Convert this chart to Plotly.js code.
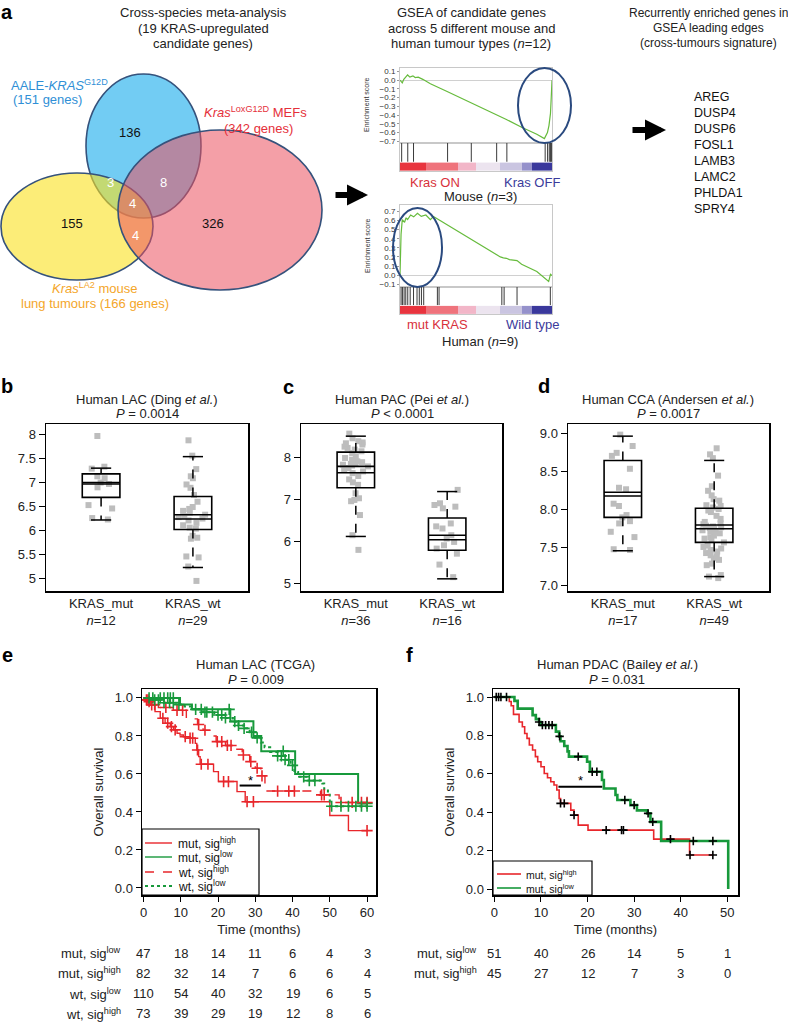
<!DOCTYPE html>
<html>
<head>
<meta charset="utf-8">
<script src="https://cdn.plot.ly/plotly-3.0.1.min.js"></script>
<style>
  html, body { margin: 0; padding: 0; background: #fff; }
  #fig { width: 788px; height: 1022px; }
</style>
</head>
<body>
<div id="fig"></div>
<script>
// ---- panel a : Venn counts and GSEA ----
const vennCounts = [136, 3, 8, 4, 155, 326, 4];
const leadingEdgeGenes = ['AREG', 'DUSP4', 'DUSP6', 'FOSL1', 'LAMB3', 'LAMC2', 'PHLDA1', 'SPRY4'];

const mouseRank = [0, 1.5, 2.5, 5, 6.5, 8.5, 10, 12, 15, 20, 31, 47, 64, 70, 80, 90, 95, 96, 97, 98, 99, 99.5, 100];
const mouseES = [0, -0.03, 0.01, 0.06, 0.035, 0.05, 0.03, 0.035, 0.01, -0.04, -0.13, -0.26, -0.4, -0.45, -0.54, -0.62, -0.67, -0.63, -0.6, -0.52, -0.38, -0.2, 0.0];
const mouseHits = [1.1, 5.1, 8.9, 31.3, 46.9, 63.6, 70.3, 95.5, 97.1, 98.2, 98.9, 99.3, 99.6];

const humanRank = [0, 0.7, 1.5, 3, 4, 5, 7, 9, 11.5, 14, 17, 20, 22, 25, 35, 45, 55, 66, 68, 70, 72, 77, 80, 90, 97.8, 99, 100];
const humanES = [0, 0.45, 0.61, 0.58, 0.63, 0.61, 0.66, 0.64, 0.68, 0.645, 0.66, 0.61, 0.645, 0.615, 0.51, 0.41, 0.31, 0.2, 0.19, 0.185, 0.17, 0.16, 0.12, 0.04, -0.07, 0.01, -0.005];
const humanHits = [0.7, 1.6, 2.7, 3.8, 5.1, 6.7, 8.9, 11.2, 12.7, 14.1, 15.6, 24.6, 25.7, 67, 68.5, 77, 98.9];

const rankBins = [0, 17, 38, 50, 66, 80, 87, 100];
const rankLevels = [0, 1, 2, 3, 4, 5, 6];

// ---- panels b-d : expression by KRAS status ----
const boxGroups = ['KRAS_mut', 'KRAS_wt'];
const boxN = [[12, 29], [36, 16], [17, 49]];
const boxLow = [[6.21, 5.22], [6.11, 5.10], [7.46, 7.12]];
const boxQ1 = [[6.68, 6.01], [7.27, 5.78], [7.90, 7.57]];
const boxMedian = [[6.99, 6.32], [7.78, 6.14], [8.23, 7.80]];
const boxMean = [[6.96, 6.23], [7.63, 6.03], [8.18, 7.75]];
const boxQ3 = [[7.17, 6.70], [8.12, 6.55], [8.65, 8.02]];
const boxHigh = [[7.29, 7.53], [8.50, 7.18], [8.97, 8.65]];

const lacMut = [7.96, 7.32, 7.28, 7.12, 7.08, 6.99, 6.96, 6.89, 6.52, 6.45, 6.25, 6.22];
const lacWt = [7.87, 7.55, 7.27, 7.12, 7.08, 6.95, 6.88, 6.73, 6.59, 6.48, 6.44, 6.40, 6.36, 6.32, 6.29, 6.27, 6.24, 6.20, 6.15, 6.10, 6.05, 6.03, 5.88, 5.84, 5.82, 5.45, 5.43, 5.24, 4.94];
const pacMut = [8.56, 8.45, 8.38, 8.35, 8.33, 8.30, 8.25, 8.22, 8.18, 8.14, 8.10, 8.02, 7.98, 7.94, 7.90, 7.88, 7.86, 7.84, 7.82, 7.80, 7.78, 7.74, 7.70, 7.66, 7.62, 7.55, 7.47, 7.40, 7.34, 7.14, 7.02, 6.98, 6.95, 6.62, 6.14, 5.79];
const pacWt = [7.22, 6.90, 6.86, 6.82, 6.78, 6.42, 6.35, 6.30, 6.14, 6.06, 5.98, 5.90, 5.82, 5.70, 5.44, 5.14];
const ccaMut = [8.99, 8.84, 8.75, 8.71, 8.54, 8.29, 8.27, 8.08, 8.05, 7.93, 7.90, 7.85, 7.82, 7.71, 7.64, 7.48, 7.47];
const ccaWt = [8.81, 8.73, 8.68, 8.45, 8.31, 8.25, 8.19, 8.14, 8.12, 8.06, 8.05, 8.03, 8.01, 7.99, 7.97, 7.92, 7.88, 7.84, 7.82, 7.81, 7.79, 7.78, 7.77, 7.76, 7.75, 7.73, 7.72, 7.71, 7.69, 7.66, 7.64, 7.62, 7.60, 7.57, 7.53, 7.51, 7.49, 7.47, 7.45, 7.43, 7.40, 7.38, 7.36, 7.34, 7.29, 7.27, 7.14, 7.12, 7.10];

// ---- panel e : TCGA LAC survival ----
const lacMutHighT = [0, 0.45, 1.8, 3.1, 4.5, 5.8, 7.2, 8.1, 9.0, 9.8, 10.7, 12.5, 13.9, 14.3, 14.8, 15.2, 18.8, 20.1, 25.1, 27.3, 50, 55, 60];
const lacMutHighS = [1.0, 0.99, 0.963, 0.928, 0.893, 0.867, 0.849, 0.832, 0.814, 0.805, 0.796, 0.788, 0.761, 0.726, 0.691, 0.651, 0.612, 0.56, 0.507, 0.454, 0.381, 0.302, 0.302];
const lacMutHighCens = [0.8, 1.2, 2.2, 5.2, 6.5, 7.5, 8.5, 11.2, 12.5, 13.2, 14.5, 15.5, 17.3, 21.5, 22.8, 27.8, 29.5, 60];
const lacMutLowT = [0, 9.8, 13.0, 23.3, 29.5, 31.6, 40.7, 57.6, 60];
const lacMutLowS = [1.0, 0.965, 0.94, 0.877, 0.80, 0.72, 0.60, 0.445, 0.445];
const lacMutLowCens = [2.5, 4.5, 5.5, 6.5, 7.2, 8.0, 23.0, 37.5, 60];
const lacWtHighT = [0, 1, 2.5, 4, 8, 11.5, 14.5, 16, 18, 19.5, 22, 24.5, 26.5, 28.5, 30, 31.5, 32.6, 47.5, 52.5, 60];
const lacWtHighS = [1.0, 0.98, 0.965, 0.95, 0.935, 0.89, 0.86, 0.83, 0.80, 0.77, 0.75, 0.73, 0.70, 0.665, 0.63, 0.59, 0.51, 0.49, 0.45, 0.45];
const lacWtHighCens = [1.5, 3, 6, 9, 10.5, 14.8, 16.5, 19.8, 21, 22.5, 23.5, 26.8, 28.8, 30.5, 31.8, 36, 39, 40.5, 47.8, 48.5, 53, 56, 58.5, 60];
const lacWtLowT = [0, 2, 5, 9, 11, 13, 16, 19, 22, 24, 25.5, 27, 28.5, 30, 31.5, 32.5, 34, 36, 38, 39.5, 40.5, 41.5, 44, 48, 48.5, 49.5, 50, 60];
const lacWtLowS = [1.0, 0.99, 0.975, 0.965, 0.955, 0.94, 0.925, 0.91, 0.895, 0.875, 0.855, 0.84, 0.82, 0.79, 0.765, 0.74, 0.715, 0.695, 0.675, 0.645, 0.61, 0.585, 0.565, 0.55, 0.52, 0.49, 0.43, 0.43];
const lacWtLowCens = [1.5, 3, 4, 5.5, 7, 8, 9.5, 14, 15.5, 16.5, 17, 18.5, 20, 21, 22, 24.5, 25.5, 27, 29, 30.5, 36, 37, 38, 39, 40, 43, 44.5, 46, 50.5, 53, 55, 57, 58.5, 60];

const lacRiskTimes = [0, 10, 20, 30, 40, 50, 60];
const lacRiskRows = ['mut, sig<sup>low</sup>', 'mut, sig<sup>high</sup>', 'wt, sig<sup>low</sup>', 'wt, sig<sup>high</sup>'];
const lacRiskMutLow = [47, 18, 14, 11, 6, 4, 3];
const lacRiskMutHigh = [82, 32, 14, 7, 6, 6, 4];
const lacRiskWtLow = [110, 54, 40, 32, 19, 6, 5];
const lacRiskWtHigh = [73, 39, 29, 19, 12, 8, 6];

// ---- panel f : PDAC survival ----
const pdacHighT = [0, 3.2, 3.6, 4.1, 5.3, 6.0, 6.5, 7.0, 7.5, 8.2, 8.8, 9.3, 10.0, 10.7, 11.4, 12.1, 12.8, 13.4, 13.9, 14.2, 16.4, 17.1, 18.0, 20.1, 34.2, 41.9, 47.0];
const pdacHighS = [1.0, 0.977, 0.955, 0.91, 0.87, 0.845, 0.81, 0.785, 0.75, 0.724, 0.69, 0.663, 0.637, 0.602, 0.58, 0.559, 0.542, 0.516, 0.472, 0.446, 0.411, 0.385, 0.333, 0.307, 0.26, 0.177, 0.177];
const pdacHighCens = [0.4, 0.9, 1.4, 2.6, 14.2, 15.0, 17.1, 24.0, 27.3, 27.7, 37.8, 42.0, 46.9];
const pdacLowT = [0, 4.3, 5.0, 8.2, 8.9, 9.6, 10.0, 13.2, 13.9, 14.2, 15.0, 15.7, 16.0, 19.9, 20.5, 23.1, 23.5, 26.0, 26.4, 29.2, 30.6, 32.8, 33.5, 35.8, 50.2];
const pdacLowS = [1.0, 0.98, 0.94, 0.906, 0.885, 0.87, 0.854, 0.82, 0.795, 0.77, 0.745, 0.717, 0.69, 0.663, 0.611, 0.568, 0.524, 0.49, 0.464, 0.437, 0.41, 0.394, 0.35, 0.25, 0.0];
const pdacLowCens = [9.6, 10.3, 11.0, 11.7, 12.4, 14.0, 18.0, 21.0, 22.0, 28.0, 30.0, 33.0, 34.0, 42.7, 46.9];

const pdacRiskTimes = [0, 10, 20, 30, 40, 50];
const pdacRiskRows = ['mut, sig<sup>low</sup>', 'mut, sig<sup>high</sup>'];
const pdacRiskLow = [51, 40, 26, 14, 5, 1];
const pdacRiskHigh = [45, 27, 12, 7, 3, 0];

// ---------------------------------------------------------------
const W = 788, H = 1022;
const FONT = 'Liberation Sans, Arial, Helvetica, sans-serif';
const px = x => x / W;
const py = y => 1 - y / H;

const RED = '#e8262b';
const GREEN = '#17993b';
const GREY_PT = '#bdbdbd';

// survival value at time t for a step curve
function survAt(T, S, t) {
  let s = S[0];
  for (let i = 0; i < T.length; i++) { if (T[i] <= t) s = S[i]; }
  return s;
}

const traces = [];
const annotations = [];
const shapes = [];

// GSEA strips + hits + running score
const stripColors = [[0, '#e8343e'], [0.1667, '#ef737c'], [0.3333, '#f2b6c8'], [0.5, '#ece4ef'], [0.6667, '#cac5e1'], [0.8333, '#9591cb'], [1, '#3a389c']];
function gsea(rank, es, hits, xa, ya, xs, ys) {
  traces.push({
    type: 'heatmap', x: rankBins, y: [0, 0.3], z: [rankLevels], xaxis: xs, yaxis: ys,
    colorscale: stripColors, zmin: 0, zmax: 6, showscale: false, hoverinfo: 'skip'
  });
  traces.push({
    type: 'scatter', mode: 'lines', xaxis: xs, yaxis: ys, showlegend: false,
    x: hits.flatMap(h => [h, h, null]), y: hits.flatMap(() => [0.33, 1, null]),
    line: { color: '#3a3a3a', width: 1 }, hoverinfo: 'skip'
  });
  traces.push({
    type: 'scatter', mode: 'lines', x: rank, y: es, xaxis: xa, yaxis: ya, showlegend: false,
    line: { color: '#66bb3c', width: 1.2 }
  });
}
gsea(mouseRank, mouseES, mouseHits, 'x', 'y', 'x2', 'y2');
gsea(humanRank, humanES, humanHits, 'x3', 'y3', 'x4', 'y4');

// box panels
const boxW = 0.41, capW = 0.11;
function boxPanel(k, groups, xa, ya) {
  groups.forEach((vals, i) => {
    traces.push({
      type: 'box', x: vals.map(() => i + 1), y: vals, xaxis: xa, yaxis: ya,
      boxpoints: 'all', jitter: 0.8, pointpos: 0, width: boxW, whiskerwidth: 0,
      line: { width: 0, color: 'rgba(0,0,0,0)' }, fillcolor: 'rgba(0,0,0,0)',
      marker: { symbol: 'square', size: 6, color: GREY_PT }, showlegend: false
    });
  });
  const pos = [1, 2];
  traces.push({
    type: 'scatter', mode: 'lines', xaxis: xa, yaxis: ya, showlegend: false,
    x: pos.flatMap(p => [p, p, null, p, p, null]),
    y: pos.flatMap((p, i) => [boxQ3[k][i], boxHigh[k][i], null, boxQ1[k][i], boxLow[k][i], null]),
    line: { color: 'black', width: 1.5, dash: 'dash' }, hoverinfo: 'skip'
  });
  traces.push({
    type: 'scatter', mode: 'lines', xaxis: xa, yaxis: ya, showlegend: false,
    x: pos.flatMap(p => [p - capW, p + capW, null, p - capW, p + capW, null, p - boxW / 2, p + boxW / 2, null]),
    y: pos.flatMap((p, i) => [boxHigh[k][i], boxHigh[k][i], null, boxLow[k][i], boxLow[k][i], null, boxMean[k][i], boxMean[k][i], null]),
    line: { color: 'black', width: 1.5 }, hoverinfo: 'skip'
  });
  traces.push({
    type: 'box', x: pos, q1: boxQ1[k], median: boxMedian[k], q3: boxQ3[k],
    lowerfence: boxQ1[k], upperfence: boxQ3[k], xaxis: xa, yaxis: ya,
    width: boxW, line: { color: 'black', width: 1.6 }, fillcolor: 'rgba(0,0,0,0)',
    boxpoints: false, showlegend: false
  });
}
boxPanel(0, [lacMut, lacWt], 'x5', 'y5');
boxPanel(1, [pacMut, pacWt], 'x6', 'y6');
boxPanel(2, [ccaMut, ccaWt], 'x7', 'y7');

// survival curves
function km(T, S, color, dash, width, xa, ya) {
  traces.push({
    type: 'scatter', mode: 'lines', x: T, y: S, xaxis: xa, yaxis: ya, showlegend: false,
    line: { color: color, width: width, dash: dash, shape: 'hv' }
  });
}
function cens(T, S, times, color, size, xa, ya) {
  traces.push({
    type: 'scatter', mode: 'markers', x: times, y: times.map(t => survAt(T, S, t)),
    xaxis: xa, yaxis: ya, showlegend: false,
    marker: { symbol: 'cross-thin', size: size, line: { color: color, width: 1.6 } }
  });
}
km(lacMutHighT, lacMutHighS, RED, 'solid', 1.4, 'x8', 'y8');
km(lacMutLowT, lacMutLowS, GREEN, 'solid', 2, 'x8', 'y8');
km(lacWtHighT, lacWtHighS, RED, 'dash', 1.4, 'x8', 'y8');
km(lacWtLowT, lacWtLowS, GREEN, 'dot', 2, 'x8', 'y8');
cens(lacMutHighT, lacMutHighS, lacMutHighCens, RED, 8, 'x8', 'y8');
cens(lacMutLowT, lacMutLowS, lacMutLowCens, GREEN, 8, 'x8', 'y8');
cens(lacWtHighT, lacWtHighS, lacWtHighCens, RED, 8, 'x8', 'y8');
cens(lacWtLowT, lacWtLowS, lacWtLowCens, GREEN, 8, 'x8', 'y8');

km(pdacHighT, pdacHighS, RED, 'solid', 1.6, 'x9', 'y9');
km(pdacLowT, pdacLowS, GREEN, 'solid', 2.6, 'x9', 'y9');
cens(pdacHighT, pdacHighS, pdacHighCens, 'black', 6, 'x9', 'y9');
cens(pdacLowT, pdacLowS, pdacLowCens, 'black', 6, 'x9', 'y9');

// ---------------------------------------------------------------
function txt(x, y, text, opt) {
  annotations.push(Object.assign({
    xref: 'paper', yref: 'paper', x: px(x), y: py(y), text: text, showarrow: false,
    xanchor: 'center', yanchor: 'middle', font: { family: FONT, size: 13, color: '#222' }
  }, opt || {}));
}
const bold = () => ({ font: { family: FONT, size: 20, color: 'black', weight: 'bold' } });

// panel letters
txt(7, 12, '<b>a</b>', bold());
txt(7, 386, '<b>b</b>', bold());
txt(288, 387, '<b>c</b>', bold());
txt(544, 386, '<b>d</b>', bold());
txt(7, 655, '<b>e</b>', bold());
txt(410, 655, '<b>f</b>', bold());

// panel a headers
['Cross-species meta-analysis', '(19 KRAS-upregulated', 'candidate genes)'].forEach((s, i) => txt(203, 13 + i * 15, s));
['GSEA of candidate genes', 'across 5 different mouse and', 'human tumour types (<i>n</i>=12)'].forEach((s, i) => txt(471, 13 + i * 15, s));
['Recurrently enriched genes in', 'GSEA leading edges', '(cross-tumours signature)'].forEach((s, i) =>
  txt(708, 13 + i * 15, s, { font: { family: FONT, size: 12, color: '#222' } }));
leadingEdgeGenes.forEach((g, i) => txt(692, 97 + i * 16, g, { xanchor: 'left', font: { family: FONT, size: 12.5, color: '#111' } }));

// Venn labels
const vennLabelPos = [[130, 133], [110, 182], [163, 182], [132, 203], [72, 223], [213, 223], [135, 235]];
const vennLabelWhite = [false, true, true, true, false, false, true];
vennCounts.forEach((c, i) => txt(vennLabelPos[i][0], vennLabelPos[i][1], String(c),
  { font: { family: FONT, size: 13, color: vennLabelWhite[i] ? 'white' : '#111' } }));
const BLUE_T = '#2f8fd6', RED_T = '#e5303a', ORANGE_T = '#f4a62a';
txt(59, 85, 'AALE-<i>KRAS</i><sup>G12D</sup>', { font: { family: FONT, size: 13, color: BLUE_T } });
txt(47, 99, '(151 genes)', { font: { family: FONT, size: 13, color: BLUE_T } });
txt(256, 112, '<i>Kras</i><sup>LoxG12D</sup> MEFs', { font: { family: FONT, size: 13, color: RED_T } });
txt(258, 128, '(342 genes)', { font: { family: FONT, size: 13, color: RED_T } });
txt(95, 288, '<i>Kras</i><sup>LA2</sup> mouse', { font: { family: FONT, size: 13, color: ORANGE_T } });
txt(95, 303, 'lung tumours (166 genes)', { font: { family: FONT, size: 13, color: ORANGE_T } });

// GSEA labels
txt(435, 182, 'Kras ON', { font: { family: FONT, size: 13, color: '#d8313b' } });
txt(532, 182, 'Kras OFF', { font: { family: FONT, size: 13, color: '#3b3b9b' } });
txt(480, 197, 'Mouse (<i>n</i>=3)');
txt(437, 324, 'mut KRAS', { font: { family: FONT, size: 13, color: '#d8313b' } });
txt(532, 324, 'Wild type', { font: { family: FONT, size: 13, color: '#3b3b9b' } });
txt(480, 341, 'Human (<i>n</i>=9)');
txt(367, 105, 'Enrichment score', { textangle: -90, font: { family: FONT, size: 7, color: '#333' } });
txt(367, 246, 'Enrichment score', { textangle: -90, font: { family: FONT, size: 7, color: '#333' } });

// arrows
[[368, 195, -34], [666, 130, -35]].forEach(a => annotations.push({
  xref: 'paper', yref: 'paper', x: px(a[0]), y: py(a[1]), ax: a[2], ay: 0, text: '',
  showarrow: true, arrowhead: 2, arrowsize: 0.7, arrowwidth: 6, arrowcolor: 'black'
}));

// box titles
txt(147, 399, 'Human LAC (Ding <i>et al.</i>)');
txt(147, 413, '<i>P</i> = 0.0014');
txt(402, 399, 'Human PAC (Pei <i>et al.</i>)');
txt(402, 413, '<i>P</i> < 0.0001');
txt(668, 399, 'Human CCA (Andersen <i>et al.</i>)');
txt(668, 413, '<i>P</i> = 0.0017');

// survival titles
txt(256, 664, 'Human LAC (TCGA)');
txt(256, 679, '<i>P</i> = 0.009');
txt(617, 664, 'Human PDAC (Bailey <i>et al.</i>)');
txt(617, 679, '<i>P</i> = 0.031');

// risk tables
const lacRisk = [lacRiskMutLow, lacRiskMutHigh, lacRiskWtLow, lacRiskWtHigh];
lacRiskRows.forEach((r, i) => {
  const yy = 953 + i * 20.3;
  txt(123, yy, r, { xanchor: 'right' });
  lacRisk[i].forEach((v, j) => annotations.push({
    xref: 'x8', yref: 'paper', x: lacRiskTimes[j], y: py(yy), text: String(v), showarrow: false,
    xanchor: 'center', yanchor: 'middle', font: { family: FONT, size: 13, color: '#222' }
  }));
});
const pdacRisk = [pdacRiskLow, pdacRiskHigh];
pdacRiskRows.forEach((r, i) => {
  const yy = 953 + i * 20.3;
  txt(479, yy, r, { xanchor: 'right' });
  pdacRisk[i].forEach((v, j) => annotations.push({
    xref: 'x9', yref: 'paper', x: pdacRiskTimes[j], y: py(yy), text: String(v), showarrow: false,
    xanchor: 'center', yanchor: 'middle', font: { family: FONT, size: 13, color: '#222' }
  }));
});

// significance stars
annotations.push({ xref: 'x8', yref: 'y8', x: 28.6, y: 0.565, text: '*', showarrow: false, font: { family: FONT, size: 13, color: 'black' } });
annotations.push({ xref: 'x9', yref: 'y9', x: 18.4, y: 0.565, text: '*', showarrow: false, font: { family: FONT, size: 13, color: 'black' } });

// ---------------------------------------------------------------
function ellipse(x0, y0, x1, y1, fill, line) {
  shapes.push({
    type: 'circle', xref: 'paper', yref: 'paper', x0: px(x0), x1: px(x1), y0: py(y1), y1: py(y0),
    fillcolor: fill, line: line
  });
}
const vennLine = { color: '#35527c', width: 1.6 };
ellipse(86, 74, 201, 218, 'rgba(20,170,235,0.6)', vennLine);
ellipse(1, 173, 153, 280, 'rgba(250,225,30,0.6)', vennLine);
ellipse(118, 130, 322, 290, 'rgba(235,80,95,0.55)', vennLine);
ellipse(518, 68, 571, 143, 'rgba(0,0,0,0)', { color: '#2a4a7f', width: 2 });
ellipse(393, 208, 442, 287, 'rgba(0,0,0,0)', { color: '#2a4a7f', width: 2 });
shapes.push({ type: 'line', xref: 'x8', yref: 'y8', x0: 25.8, x1: 31.5, y0: 0.539, y1: 0.539, line: { color: 'black', width: 2 } });
shapes.push({ type: 'line', xref: 'x9', yref: 'y9', x0: 13.75, x1: 23.15, y0: 0.533, y1: 0.533, line: { color: 'black', width: 2 } });

// in-plot keys, drawn as a box of line samples and labels
function key(x0, y0, x1, y1, rows, rowY, sx0, sx1, tx, fs) {
  shapes.push({
    type: 'rect', xref: 'paper', yref: 'paper', x0: px(x0), x1: px(x1), y0: py(y1), y1: py(y0),
    fillcolor: 'white', line: { color: 'black', width: 1.2 }
  });
  rows.forEach((r, i) => {
    shapes.push({
      type: 'line', xref: 'paper', yref: 'paper', x0: px(sx0), x1: px(sx1), y0: py(rowY[i]), y1: py(rowY[i]),
      line: { color: r[1], width: r[3], dash: r[2] }
    });
    txt(tx, rowY[i], r[0], { xanchor: 'left', font: { family: FONT, size: fs, color: '#111' } });
  });
}
key(142, 829, 259, 895, [
  ['mut, sig<sup>high</sup>', RED, 'solid', 1.4],
  ['mut, sig<sup>low</sup>', GREEN, 'solid', 1.4],
  ['wt, sig<sup>high</sup>', RED, 'dash', 1.4],
  ['wt, sig<sup>low</sup>', GREEN, 'dot', 1.8]
], [843, 857, 872, 886], 145, 172, 176, 12);
key(493, 861, 592, 895, [
  ['mut, sig<sup>high</sup>', RED, 'solid', 1.6],
  ['mut, sig<sup>low</sup>', GREEN, 'solid', 1.6]
], [874, 888], 497, 521, 524, 10.5);

// ---------------------------------------------------------------
const frame = {
  showline: true, mirror: true, linecolor: 'black', linewidth: 1.5, showgrid: false, zeroline: false,
  tickfont: { family: FONT, size: 13, color: '#222' }, tickcolor: 'black', fixedrange: true
};
const gseaFrame = {
  showline: true, mirror: true, linecolor: '#c8c8c8', linewidth: 1, showgrid: false, zeroline: false, fixedrange: true
};
const gX = [px(400), px(552)];

function esAxis(dom, range, anchor) {
  return Object.assign({}, gseaFrame, {
    domain: dom, range: range, anchor: anchor, dtick: 0.1, tick0: 0, tickformat: '.1f',
    tickfont: { family: FONT, size: 8, color: '#333' }, ticks: 'outside', ticklen: 2, tickcolor: '#999',
    zeroline: true, zerolinecolor: '#d0d0d0', zerolinewidth: 1
  });
}
const plain = (dom, range, anchor) => Object.assign({}, gseaFrame, {
  domain: dom, range: range, anchor: anchor, showticklabels: false, ticks: ''
});

function boxX(x0, x1, k, anchor) {
  return Object.assign({}, frame, {
    domain: [px(x0), px(x1)], range: [0.4, 2.6], anchor: anchor, tickvals: [1, 2],
    ticktext: boxGroups.map((g, i) => g + '<br><i>n</i>=' + boxN[k][i]), ticks: ''
  });
}
function boxY(range, tickvals, fmt, anchor) {
  return Object.assign({}, frame, {
    domain: [py(591), py(424)], range: range, anchor: anchor, tickvals: tickvals, tickformat: fmt,
    ticks: 'outside', ticklen: 6
  });
}

const layout = {
  width: W, height: H, margin: { l: 0, r: 0, t: 0, b: 0 },
  paper_bgcolor: 'white', plot_bgcolor: 'white',
  font: { family: FONT, size: 13, color: '#222' },
  boxmode: 'overlay', hovermode: false, showlegend: false,
  xaxis: plain(gX, [0, 100], 'y'),
  yaxis: esAxis([py(143), py(68)], [-0.72, 0.14], 'x'),
  xaxis2: plain(gX, [0, 100], 'y2'),
  yaxis2: plain([py(171), py(143)], [0, 1], 'x2'),
  xaxis3: plain(gX, [0, 100], 'y3'),
  yaxis3: esAxis([py(287), py(205)], [-0.13, 0.77], 'x3'),
  xaxis4: plain(gX, [0, 100], 'y4'),
  yaxis4: plain([py(314), py(287)], [0, 1], 'x4'),
  xaxis5: boxX(46, 248, 0, 'y5'),
  yaxis5: boxY([4.73, 8.21], [5, 5.5, 6, 6.5, 7, 7.5, 8], '', 'x5'),
  xaxis6: boxX(301, 502, 1, 'y6'),
  yaxis6: boxY([4.81, 8.79], [5, 6, 7, 8], '', 'x6'),
  xaxis7: boxX(568, 769, 2, 'y7'),
  yaxis7: boxY([6.93, 9.13], [7, 7.5, 8, 8.5, 9], '.1f', 'x7'),
  xaxis8: Object.assign({}, frame, {
    domain: [px(142), px(376)], range: [-0.4, 62.4], anchor: 'y8', tickvals: lacRiskTimes,
    ticks: 'outside', ticklen: 5, title: { text: 'Time (months)', font: { family: FONT, size: 13 }, standoff: 6 }
  }),
  yaxis8: Object.assign({}, frame, {
    domain: [py(895), py(689)], range: [-0.037, 1.047], anchor: 'x8', tickvals: [0, 0.2, 0.4, 0.6, 0.8, 1],
    tickformat: '.1f', ticks: 'outside', ticklen: 5,
    title: { text: 'Overall survival', font: { family: FONT, size: 13 }, standoff: 8 }
  }),
  xaxis9: Object.assign({}, frame, {
    domain: [px(493), px(738)], range: [-0.3, 52.3], anchor: 'y9', tickvals: pdacRiskTimes,
    ticks: 'outside', ticklen: 5, title: { text: 'Time (months)', font: { family: FONT, size: 13 }, standoff: 6 }
  }),
  yaxis9: Object.assign({}, frame, {
    domain: [py(895), py(689)], range: [-0.031, 1.042], anchor: 'x9', tickvals: [0, 0.2, 0.4, 0.6, 0.8, 1],
    tickformat: '.1f', ticks: 'outside', ticklen: 5,
    title: { text: 'Overall survival', font: { family: FONT, size: 13 }, standoff: 8 }
  }),
  annotations: annotations,
  shapes: shapes
};

Plotly.newPlot('fig', traces, layout, { displayModeBar: false, staticPlot: true });
</script>
</body>
</html>
